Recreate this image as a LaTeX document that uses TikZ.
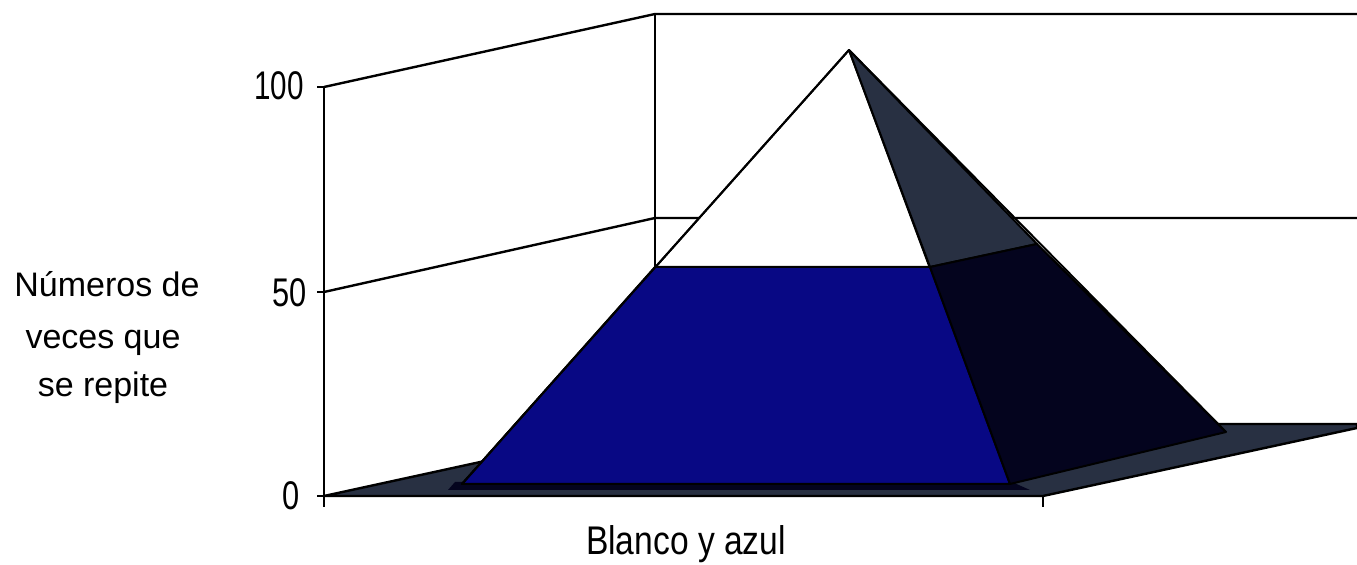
\documentclass[tikz,border=0pt]{standalone}
\usepackage{fontspec}
\setmainfont{Liberation Sans}
\definecolor{pyrblue}{RGB}{8,8,132}
\definecolor{slate}{RGB}{40,48,66}
\definecolor{nearblack}{RGB}{4,4,30}
\newcommand\hsq[2]{\scalebox{#1}[1]{#2}}
\begin{document}
\begin{tikzpicture}[x=0.5pt,y=-0.5pt,line join=round,
  gridline/.style={line width=1.2pt,black},
  numlabel/.style={anchor=base east,inner sep=0pt,font=\fontsize{20}{24}\selectfont},
  ylab/.style={anchor=base,inner sep=0pt,font=\fontsize{17}{20}\selectfont},
  face/.style={draw=black,line width=1pt}]
\useasboundingbox (0,0) rectangle (1357,565);
\fill[white] (0,0) rectangle (1357,565);
% wall / floor coordinates
\coordinate (A100) at (324,87);
\coordinate (A50) at (324,292);
\coordinate (A0) at (324,496);
\coordinate (B100) at (655,14);
\coordinate (B50) at (655,218);
\coordinate (B0) at (655,424);
\coordinate (R100) at (1357,14);
\coordinate (R50) at (1357,218);
\coordinate (F1) at (1043,496);
\coordinate (FRc) at (1357,428);
\coordinate (BRc) at (1357,424);
\coordinate (Abot) at (324,507);
\coordinate (F1bot) at (1043,507);
% gridlines and back wall
\draw[gridline] (A100) -- (B100) -- (R100);
\draw[gridline] (A50) -- (B50) -- (R50);
\draw[gridline] (B100) -- (B0);
% floor
\filldraw[fill=slate,draw=black,line width=1.2pt] (A0) -- (B0) -- (BRc) -- (FRc) -- (F1) -- cycle;
% pyramid coordinates
\coordinate (P) at (849,50);
\coordinate (FL) at (462,484);
\coordinate (FR) at (1010,484);
\coordinate (BR) at (1226,432);
\coordinate (L) at (655,267);
\coordinate (M) at (930,267);
\coordinate (N) at (1037,244);
% base band
\fill[nearblack] (455,482) -- (1012,482) -- (1030,490) -- (448,490) -- cycle;
% front face
\filldraw[face,fill=white] (P) -- (FL) -- (FR) -- cycle;
\filldraw[face,fill=pyrblue] (L) -- (FL) -- (FR) -- (M) -- cycle;
% right face
\filldraw[face,fill=slate] (P) -- (M) -- (N) -- cycle;
\filldraw[face,fill=nearblack] (M) -- (FR) -- (BR) -- (N) -- cycle;
\draw[face] (P) -- (FL);
\draw[face] (P) -- (BR);
% axes and ticks
\draw[gridline] (A100) -- (Abot);
\draw[gridline] (A0) -- (F1);
\coordinate (T100) at (317,87);
\coordinate (T50) at (317,292);
\coordinate (T0) at (317,496);
\draw[gridline] (T100) -- (A100);
\draw[gridline] (T50) -- (A50);
\draw[gridline] (T0) -- (A0);
\draw[gridline] (F1) -- (F1bot);
% labels
\node[numlabel] (n100) at (304,100) {\hsq{0.74}{100}};
\node[numlabel] (n50) at (307,307) {\hsq{0.77}{50}};
\node[numlabel] (n0) at (300,510) {\hsq{0.77}{0}};
\node[ylab] (y1) at (107,297) {Números de};
\node[ylab] (y2) at (103,349) {veces que};
\node[ylab] (y3) at (103,397) {se repite};
\node[anchor=base,inner sep=0pt,font=\fontsize{20}{24}\selectfont] (xl) at (686,555) {\hsq{0.84}{Blanco y azul}};
\end{tikzpicture}
\end{document}
